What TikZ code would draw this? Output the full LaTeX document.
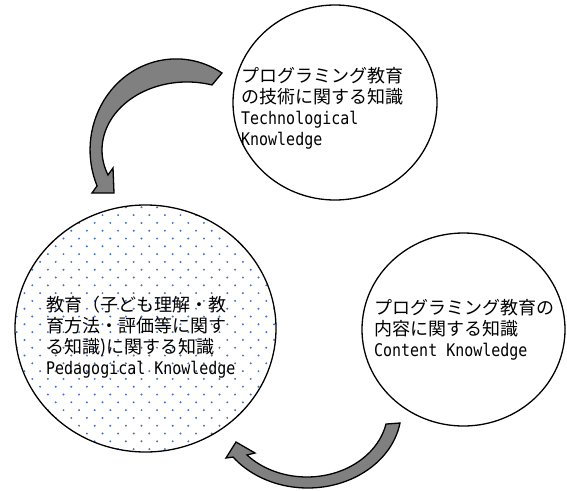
\documentclass[tikz,border=0pt]{standalone}
\usepackage{fontspec}
\newfontfamily\jpfont{Noto Sans CJK JP}
\newfontfamily\monofont[FakeStretch=0.86]{DejaVu Sans Mono}
\usetikzlibrary{shapes.geometric}
\definecolor{dotblue}{RGB}{68,114,196}
\definecolor{arrowgray}{RGB}{128,128,128}
\begin{document}
\begin{tikzpicture}[x=1pt,y=1pt,
  circ/.style={ellipse,draw,line width=1.3pt,inner sep=0pt},
  jp/.style={anchor=base west,inner sep=0pt,font=\jpfont\fontsize{18}{21}\selectfont},
  en/.style={anchor=base west,inner sep=0pt,font=\monofont\fontsize{17.4}{21}\selectfont},
  blockarrow/.style={fill=arrowgray,draw=black,line width=1.3pt,line join=miter}]
\useasboundingbox (0,0) rectangle (567,-490);

% dotted fill of the left circle
\begin{scope}
  \clip (145.5,-328.5) ellipse [x radius=130.5, y radius=123.5];
  \foreach \j in {0,...,33} {
    \foreach \i in {-14,...,5} {
      \fill[dotblue] ({211.7+15.6*\i+7.8*mod(\j,2)},{-386.7-7.8*(\j-24)}) circle (1.1);
    }
  }
\end{scope}

% circles
\node[circ,minimum width=204pt,minimum height=195pt] (tech) at (335,-102.5) {};
\node[circ,minimum width=261pt,minimum height=247pt] (ped) at (145.5,-328.5) {};
\node[circ,minimum width=203pt,minimum height=193pt] (con) at (463.5,-329.5) {};

% texts
\node[jp] (tech1) at (241,-82) {プログラミング教育};
\node[jp] (tech2) at (241,-103) {の技術に関する知識};
\node[en] (tech3) at (241,-124) {Technological};
\node[en] (tech4) at (241,-145) {Knowledge};

\node[jp] (ped1) at (46,-311) {教育（子ども理解・教};
\node[jp] (ped2) at (46,-332) {育方法・評価等に関す};
\node[jp] (ped3) at (46,-353) {る知識)に関する知識};
\node[en] (ped4) at (46,-374) {Pedagogical Knowledge};

\node[jp] (con1) at (374,-314) {プログラミング教育の};
\node[jp] (con2) at (374,-335) {内容に関する知識};
\node[en] (con3) at (374,-356) {Content Knowledge};

% curved block arrows
\draw[blockarrow] (222,-73) arc[start angle=57.7,end angle=203.3,x radius=86,y radius=91]
  -- (92,-193) -- (114,-193) -- (113,-168) -- (108,-175)
  arc[start angle=201.6,end angle=72.9,x radius=85,y radius=68] -- cycle;
\draw[blockarrow] (400,-423) arc[start angle=-9.6,end angle=-142.9,x radius=93.6,y radius=78]
  -- (226,-458) -- (236,-442) -- (255,-453) -- (247,-455)
  arc[start angle=-137.8,end angle=-12.1,x radius=80.9,y radius=67] -- cycle;
\end{tikzpicture}
\end{document}
